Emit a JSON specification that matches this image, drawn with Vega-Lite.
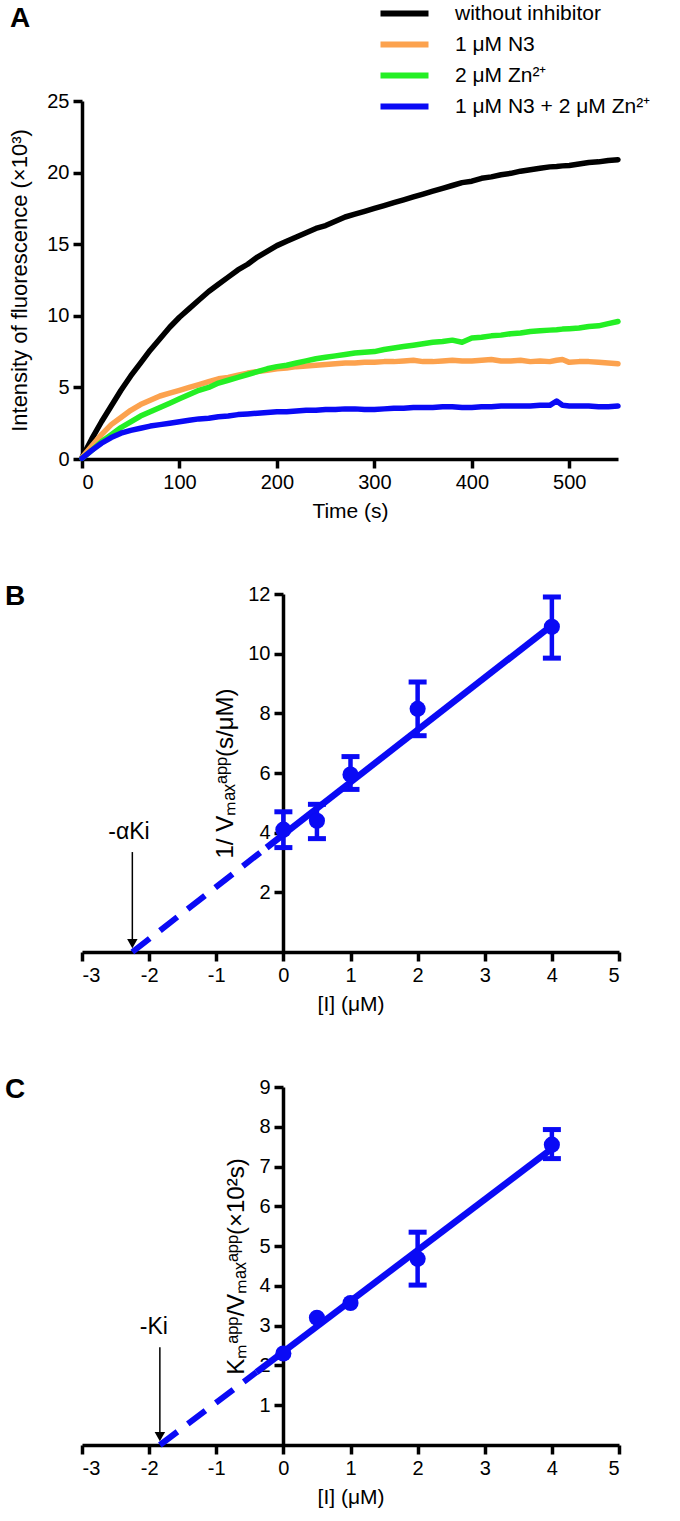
{
  "$schema": "https://vega.github.io/schema/vega-lite/v6.json",
  "padding": {"left": 5, "top": 3, "right": 5, "bottom": 5},
  "spacing": 62,
  "config": {
    "font": "Liberation Sans",
    "view": {"stroke": null},
    "axis": {"domainColor": "black", "domainWidth": 3.5, "tickColor": "black", "tickWidth": 3.5, "tickSize": 9, "labelColor": "black", "labelFontSize": 20, "titleFontSize": 21, "titleFontWeight": "normal", "titleColor": "black", "grid": false, "labelPadding": 4, "titlePadding": 8, "labelFont": "Liberation Sans", "titleFont": "Liberation Sans", "labelExpr": "replace(datum.label, '−', '-')"},
    "title": {"fontSize": 28, "fontWeight": "bold", "anchor": "start", "frame": "group", "color": "black", "font": "Liberation Sans"}
  },
  "vconcat": [
    {
      "width": 536,
      "height": 358,
      "title": {"text": "A", "dx": -72, "offset": 58},
      "data": {"values": [
        {"t":0,"k":0.1,"o":0.1,"g":0.05,"b":0.05},{"t":10,"k":1.4,"o":0.9,"g":0.6,"b":0.6},{"t":20,"k":2.6,"o":1.7,"g":1.2,"b":1.1},{"t":30,"k":3.7,"o":2.4,"g":1.7,"b":1.5},{"t":40,"k":4.8,"o":2.9,"g":2.2,"b":1.8},{"t":50,"k":5.8,"o":3.4,"g":2.6,"b":2.0},{"t":60,"k":6.7,"o":3.8,"g":3.0,"b":2.15},{"t":70,"k":7.6,"o":4.1,"g":3.3,"b":2.3},{"t":80,"k":8.4,"o":4.4,"g":3.6,"b":2.4},{"t":90,"k":9.2,"o":4.6,"g":3.9,"b":2.5},{"t":100,"k":9.9,"o":4.8,"g":4.2,"b":2.6},{"t":110,"k":10.5,"o":5.0,"g":4.5,"b":2.7},{"t":120,"k":11.1,"o":5.2,"g":4.8,"b":2.8},{"t":130,"k":11.7,"o":5.4,"g":5.0,"b":2.85},{"t":140,"k":12.2,"o":5.6,"g":5.3,"b":2.95},{"t":150,"k":12.7,"o":5.7,"g":5.5,"b":3.0},{"t":160,"k":13.2,"o":5.85,"g":5.7,"b":3.1},{"t":170,"k":13.6,"o":6.0,"g":5.9,"b":3.15},{"t":180,"k":14.1,"o":6.1,"g":6.1,"b":3.2},{"t":190,"k":14.5,"o":6.2,"g":6.3,"b":3.25},{"t":200,"k":14.9,"o":6.3,"g":6.45,"b":3.3},{"t":210,"k":15.2,"o":6.35,"g":6.55,"b":3.3},{"t":220,"k":15.5,"o":6.45,"g":6.7,"b":3.35},{"t":230,"k":15.8,"o":6.5,"g":6.85,"b":3.4},{"t":240,"k":16.1,"o":6.55,"g":7.0,"b":3.4},{"t":250,"k":16.3,"o":6.6,"g":7.1,"b":3.45},{"t":260,"k":16.6,"o":6.65,"g":7.2,"b":3.45},{"t":270,"k":16.9,"o":6.7,"g":7.3,"b":3.5},{"t":280,"k":17.1,"o":6.7,"g":7.4,"b":3.5},{"t":290,"k":17.3,"o":6.75,"g":7.45,"b":3.45},{"t":300,"k":17.5,"o":6.75,"g":7.5,"b":3.45},{"t":310,"k":17.7,"o":6.8,"g":7.65,"b":3.5},{"t":320,"k":17.9,"o":6.8,"g":7.75,"b":3.55},{"t":330,"k":18.1,"o":6.85,"g":7.85,"b":3.55},{"t":340,"k":18.3,"o":6.9,"g":7.95,"b":3.6},{"t":350,"k":18.5,"o":6.8,"g":8.05,"b":3.6},{"t":360,"k":18.7,"o":6.8,"g":8.15,"b":3.6},{"t":370,"k":18.9,"o":6.85,"g":8.2,"b":3.65},{"t":380,"k":19.1,"o":6.9,"g":8.3,"b":3.65},{"t":390,"k":19.3,"o":6.85,"g":8.15,"b":3.6},{"t":400,"k":19.4,"o":6.85,"g":8.45,"b":3.6},{"t":410,"k":19.6,"o":6.9,"g":8.5,"b":3.65},{"t":420,"k":19.7,"o":6.95,"g":8.6,"b":3.65},{"t":430,"k":19.85,"o":6.85,"g":8.65,"b":3.7},{"t":440,"k":19.95,"o":6.85,"g":8.75,"b":3.7},{"t":450,"k":20.1,"o":6.9,"g":8.8,"b":3.7},{"t":460,"k":20.2,"o":6.8,"g":8.9,"b":3.7},{"t":470,"k":20.3,"o":6.85,"g":8.95,"b":3.75},{"t":480,"k":20.4,"o":6.8,"g":9.0,"b":3.75},{"t":487,"k":20.43,"o":6.9,"g":9.03,"b":4.05},{"t":493,"k":20.47,"o":6.95,"g":9.07,"b":3.75},{"t":500,"k":20.5,"o":6.75,"g":9.1,"b":3.7},{"t":510,"k":20.6,"o":6.8,"g":9.15,"b":3.7},{"t":520,"k":20.7,"o":6.8,"g":9.25,"b":3.7},{"t":530,"k":20.75,"o":6.75,"g":9.3,"b":3.65},{"t":540,"k":20.85,"o":6.7,"g":9.45,"b":3.65},{"t":550,"k":20.9,"o":6.65,"g":9.6,"b":3.7}
      ]},
      "transform": [{"fold": ["k", "o", "g", "b"], "as": ["s", "v"]}],
      "mark": {"type": "line", "strokeWidth": 5.5, "strokeJoin": "round", "strokeCap": "round"},
      "encoding": {
        "x": {"field": "t", "type": "quantitative", "scale": {"domain": [0, 550], "nice": false}, "axis": {"values": [0, 100, 200, 300, 400, 500], "title": "Time (s)"}},
        "y": {"field": "v", "type": "quantitative", "scale": {"domain": [0, 25], "nice": false}, "axis": {"values": [0, 5, 10, 15, 20, 25], "title": "Intensity of fluorescence (×10³)", "titleFontSize": 22, "titlePadding": 15}},
        "color": {"field": "s", "type": "nominal", "sort": null,
          "scale": {"domain": ["k", "o", "g", "b"], "range": ["#000000", "#fca24e", "#24ef24", "#0a0af5"]},
          "legend": {"orient": "none", "legendX": 312, "legendY": -98, "title": null, "symbolType": "M-4,0H4", "symbolStrokeWidth": 6, "symbolSize": 144, "labelFontSize": 21, "labelColor": "black", "labelOffset": 40, "rowPadding": 6, "labelLimit": 400,
            "labelExpr": "{'k': 'without inhibitor', 'o': '1 μM N3', 'g': '2 μM Zn²⁺', 'b': '1 μM N3 + 2 μM Zn²⁺'}[datum.label]"}}
      }
    },
    {
      "width": 537,
      "height": 358,
      "title": {"text": "B", "dx": -77, "dy": 31},
      "encoding": {
        "x": {"field": "x", "type": "quantitative", "scale": {"domain": [-3, 5], "nice": false}, "axis": {"values": [-3, -2, -1, 0, 1, 2, 3, 4, 5], "title": "[I] (μM)"}},
        "y": {"field": "y", "type": "quantitative", "scale": {"domain": [0, 12], "nice": false}, "axis": {"values": [2, 4, 6, 8, 10, 12], "offset": -201, "title": "1/ Vₘₐₓᵃᵖᵖ(s/μM)", "titleFontSize": 24, "titlePadding": 10}}
      },
      "layer": [
        {
          "data": {"values": [{"x": -2.25, "y": 0}, {"x": -0.25, "y": 3.5}]},
          "mark": {"type": "line", "strokeWidth": 6, "color": "#0a0af5", "strokeDash": [22, 13]}
        },
        {
          "data": {"values": [{"x": -0.25, "y": 3.5}, {"x": 4, "y": 10.95}]},
          "mark": {"type": "line", "strokeWidth": 6.5, "color": "#0a0af5"}
        },
        {
          "data": {"values": [{"x": 0, "y": 3.5, "y2": 4.7}, {"x": 0.5, "y": 3.8, "y2": 4.95}, {"x": 1, "y": 5.45, "y2": 6.55}, {"x": 2, "y": 7.25, "y2": 9.05}, {"x": 4, "y": 9.85, "y2": 11.9}]},
          "mark": {"type": "errorbar", "ticks": {"size": 18, "thickness": 5, "color": "#0a0af5", "opacity": 1}, "rule": {"strokeWidth": 4.5, "color": "#0a0af5", "opacity": 1}, "color": "#0a0af5"},
          "encoding": {"y2": {"field": "y2"}}
        },
        {
          "data": {"values": [{"x": 0, "y": 4.1}, {"x": 0.5, "y": 4.4}, {"x": 1, "y": 5.95}, {"x": 2, "y": 8.15}, {"x": 4, "y": 10.9}]},
          "mark": {"type": "point", "shape": "circle", "filled": true, "size": 260, "color": "#0a0af5", "opacity": 1}
        },
        {
          "data": {"values": [{"x": -2.25, "y": 3.35, "y2": 0.3}]},
          "mark": {"type": "rule", "strokeWidth": 1.5, "color": "black"},
          "encoding": {"y2": {"field": "y2"}}
        },
        {
          "data": {"values": [{"x": -2.25, "y": 0.28}]},
          "mark": {"type": "point", "shape": "triangle-down", "filled": true, "size": 110, "color": "black", "opacity": 1}
        },
        {
          "data": {"values": [{"x": -2.3, "y": 3.8, "label": "-αKi"}]},
          "mark": {"type": "text", "fontSize": 23, "align": "center", "baseline": "alphabetic", "color": "black"},
          "encoding": {"text": {"field": "label"}}
        }
      ]
    },
    {
      "width": 537,
      "height": 358,
      "title": {"text": "C", "dx": -77, "dy": 31},
      "encoding": {
        "x": {"field": "x", "type": "quantitative", "scale": {"domain": [-3, 5], "nice": false}, "axis": {"values": [-3, -2, -1, 0, 1, 2, 3, 4, 5], "title": "[I] (μM)"}},
        "y": {"field": "y", "type": "quantitative", "scale": {"domain": [0, 9], "nice": false}, "axis": {"values": [1, 2, 3, 4, 5, 6, 7, 8, 9], "offset": -201, "title": "Kₘᵃᵖᵖ/Vₘₐₓᵃᵖᵖ(×10²s)", "titleFontSize": 24, "titlePadding": 10}}
      },
      "layer": [
        {
          "data": {"values": [{"x": -1.84, "y": 0}, {"x": -0.4, "y": 1.83}]},
          "mark": {"type": "line", "strokeWidth": 6, "color": "#0a0af5", "strokeDash": [22, 13]}
        },
        {
          "data": {"values": [{"x": -0.4, "y": 1.83}, {"x": 4, "y": 7.45}]},
          "mark": {"type": "line", "strokeWidth": 6.5, "color": "#0a0af5"}
        },
        {
          "data": {"values": [{"x": 2, "y": 4.02, "y2": 5.35}, {"x": 4, "y": 7.2, "y2": 7.93}]},
          "mark": {"type": "errorbar", "ticks": {"size": 18, "thickness": 5, "color": "#0a0af5", "opacity": 1}, "rule": {"strokeWidth": 4.5, "color": "#0a0af5", "opacity": 1}, "color": "#0a0af5"},
          "encoding": {"y2": {"field": "y2"}}
        },
        {
          "data": {"values": [{"x": 0, "y": 2.3}, {"x": 0.5, "y": 3.2}, {"x": 1, "y": 3.57}, {"x": 2, "y": 4.68}, {"x": 4, "y": 7.55}]},
          "mark": {"type": "point", "shape": "circle", "filled": true, "size": 260, "color": "#0a0af5", "opacity": 1}
        },
        {
          "data": {"values": [{"x": -1.84, "y": 2.46, "y2": 0.25}]},
          "mark": {"type": "rule", "strokeWidth": 1.5, "color": "black"},
          "encoding": {"y2": {"field": "y2"}}
        },
        {
          "data": {"values": [{"x": -1.84, "y": 0.21}]},
          "mark": {"type": "point", "shape": "triangle-down", "filled": true, "size": 110, "color": "black", "opacity": 1}
        },
        {
          "data": {"values": [{"x": -1.93, "y": 2.8, "label": "-Ki"}]},
          "mark": {"type": "text", "fontSize": 23, "align": "center", "baseline": "alphabetic", "color": "black"},
          "encoding": {"text": {"field": "label"}}
        }
      ]
    }
  ]
}
